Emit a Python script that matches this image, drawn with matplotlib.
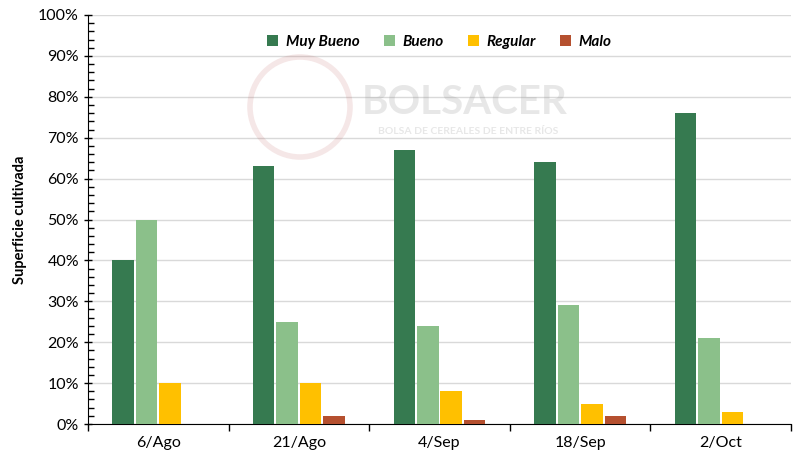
import numpy as np
import matplotlib
matplotlib.use("Agg")
import matplotlib.pyplot as plt
from matplotlib.ticker import MultipleLocator, PercentFormatter
from matplotlib.patches import Ellipse

plt.rcParams['font.family'] = ['Lato', 'DejaVu Sans']

fechas = ["6/Ago", "21/Ago", "4/Sep", "18/Sep", "2/Oct"]
series = ["Muy Bueno", "Bueno", "Regular", "Malo"]
muy_bueno = [40, 63, 67, 64, 76]
bueno = [50, 25, 24, 29, 21]
regular = [10, 10, 8, 5, 3]
malo = [0, 2, 1, 2, 0]
colores = ["#367A50", "#8BC08A", "#FFC000", "#B5502F"]

fig = plt.figure(figsize=(8.03, 4.68), dpi=100)
ax = fig.add_axes([88 / 803, 44 / 468, (791 - 88) / 803, (424 - 15) / 468])

x = np.arange(len(fechas))
slot = 0.167
width = 0.153
for i, (name, vals) in enumerate(zip(series, [muy_bueno, bueno, regular, malo])):
    ax.bar(x + (i - 1.5) * slot, vals, width, color=colores[i], label=name, zorder=3)

ax.set_xlim(-0.5, len(fechas) - 0.5)
ax.set_ylim(0, 100)
ax.yaxis.set_major_locator(MultipleLocator(10))
ax.yaxis.set_minor_locator(MultipleLocator(2))
ax.yaxis.set_major_formatter(PercentFormatter(decimals=0))
ax.set_xticks(x)
ax.set_xticklabels(fechas)
ax.set_xticks(np.arange(len(fechas) + 1) - 0.5, minor=True)
ax.tick_params(axis='x', which='major', length=0, labelsize=11.5, pad=9)
ax.tick_params(axis='x', which='minor', length=5, direction='out', width=1)
ax.tick_params(axis='y', which='major', length=6, direction='inout', labelsize=11.5, width=1)
ax.tick_params(axis='y', which='minor', length=4, direction='in', width=1)
ax.grid(axis='y', which='major', color='#D9D9D9', linewidth=1, zorder=0)
for s in ['top', 'right']:
    ax.spines[s].set_visible(False)
ax.set_ylabel("Superficie cultivada", fontsize=10.5, fontweight='bold', labelpad=8)

ax.legend(loc='upper center', bbox_to_anchor=(0.5, 0.985), ncol=4, frameon=False,
          prop={'weight': 'bold', 'style': 'italic', 'size': 11},
          handlelength=0.7, handleheight=0.7, columnspacing=1.6, handletextpad=0.5)

# marca de agua
fig.text(465 / 803, 1 - 103 / 468, "BOLSACER", fontsize=29, fontweight='bold', color='#8A8A8A',
         alpha=0.2, ha='center', va='center')
fig.text(468 / 803, 1 - 131 / 468, "BOLSA DE CEREALES DE ENTRE RÍOS", fontsize=7.5,
         fontweight='bold', color='#8A8A8A', alpha=0.2, ha='center', va='center')
fig.patches.append(Ellipse((300 / 803, 1 - 107 / 468), 100 / 803, 100 / 468,
                           transform=fig.transFigure, facecolor='none',
                           edgecolor='#C06060', alpha=0.15, linewidth=4))

fig.savefig("out.png", dpi=100)
